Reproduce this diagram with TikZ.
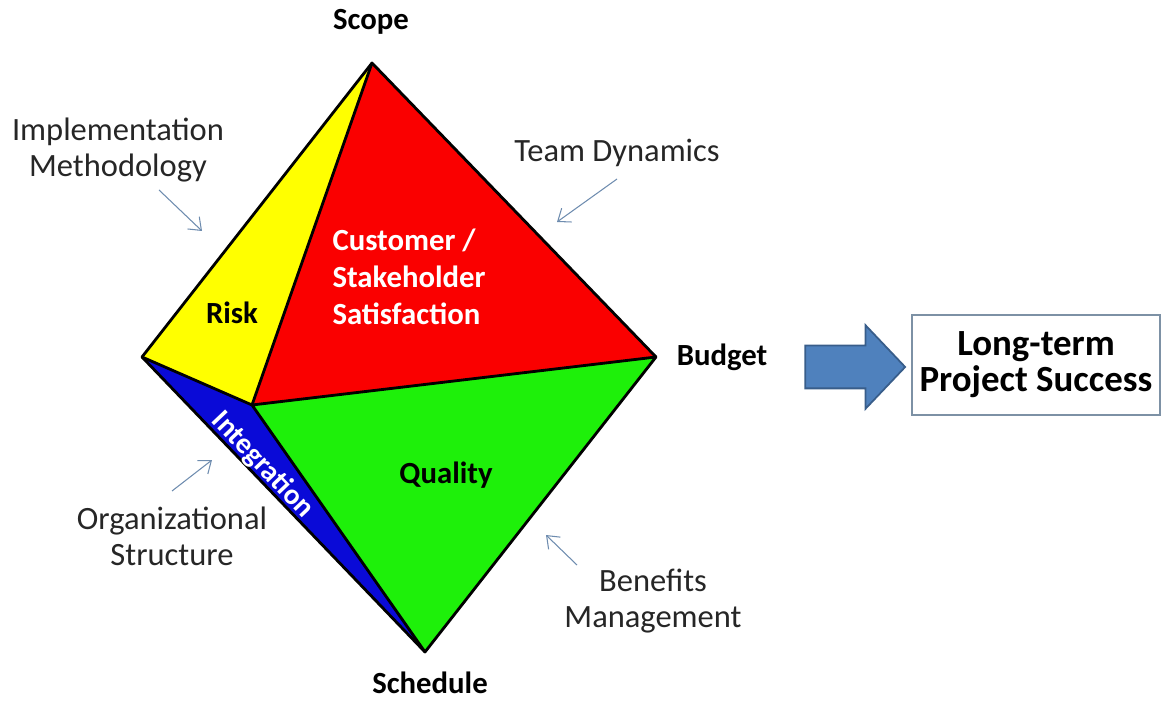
\documentclass[tikz,border=0pt]{standalone}
\usepackage{fontspec}
\setmainfont{Carlito}
\usepackage{xcolor}
\usetikzlibrary{arrows.meta,shapes.arrows}
\definecolor{cred}{RGB}{250,0,0}
\definecolor{cyel}{RGB}{255,255,0}
\definecolor{cgrn}{RGB}{30,240,10}
\definecolor{cblu}{RGB}{10,10,215}
\definecolor{cpush}{RGB}{79,129,189}
\definecolor{cpushline}{RGB}{56,93,138}
\definecolor{chint}{RGB}{110,140,175}
\definecolor{cbox}{RGB}{125,145,165}

\begin{document}
\begin{tikzpicture}[
  face/.style={draw=black,line width=1.6pt,line join=round},
  corner/.style={font=\fontsize{17.5}{21}\selectfont\bfseries},
  note/.style={font=\fontsize{18.5}{20.5}\selectfont,text=black!85,align=center},
  inlabel/.style={font=\fontsize{17.5}{21}\selectfont\bfseries,align=left},
  hint/.style={-{Straight Barb[length=2.2mm,width=3.4mm]},chint,line width=0.6pt},
]
\useasboundingbox (0,0) rectangle (23.3,-14.04);
% corners of the double pyramid
\coordinate (top) at (7.44,-1.26);
\coordinate (west) at (2.84,-7.14);
\coordinate (east) at (13.12,-7.14);
\coordinate (mid) at (5.04,-8.10);
\coordinate (bot) at (8.50,-13.04);
% faces
\fill[cyel] (top) -- (west) -- (mid) -- cycle;
\fill[cred] (top) -- (mid) -- (east) -- cycle;
\fill[cblu] (west) -- (mid) -- (bot) -- cycle;
\fill[cgrn] (mid) -- (east) -- (bot) -- cycle;
\draw[face] (top) -- (west) -- (bot) -- (east) -- cycle;
\draw[face] (top) -- (mid) -- (east) (west) -- (mid) -- (bot);
% corner labels
\node[corner] (scope) at (7.42,-0.44) {Scope};
\node[corner] (budget) at (14.44,-7.14) {Budget};
\node[corner] (schedule) at (8.60,-13.66) {Schedule};
% face labels
\node[inlabel] (risk) at (4.64,-6.26) {Risk};
\node[inlabel,text=white] (cust) at (8.18,-5.54) {Customer /\\Stakeholder\\Satisfaction};
\node[inlabel] (quality) at (8.92,-9.50) {Quality};
\node[inlabel,text=white,font=\fontsize{16.6}{18}\selectfont\bfseries,rotate=-46.5,inner sep=0pt] (integ) at (5.25,-9.30) {Integration};
% influences around the edges
\node[note] (impl) at (2.36,-3.00) {Implementation\\Methodology};
\node[note] (team) at (12.34,-3.06) {Team Dynamics};
\node[note] (org) at (3.44,-10.73) {Organizational\\Structure};
\node[note] (benef) at (13.06,-12.02) {Benefits\\Management};
\coordinate (implA) at (3.18,-3.80);  \coordinate (implB) at (4.04,-4.62);
\coordinate (teamA) at (12.34,-3.58); \coordinate (teamB) at (11.14,-4.44);
\coordinate (orgA) at (3.44,-9.82);   \coordinate (orgB) at (4.24,-9.20);
\coordinate (benefA) at (11.54,-11.30); \coordinate (benefB) at (10.92,-10.70);
\draw[hint] (implA) -- (implB);
\draw[hint] (teamA) -- (teamB);
\draw[hint] (orgA) -- (orgB);
\draw[hint] (benefA) -- (benefB);
% outcome
\node[single arrow,draw=cpushline,fill=cpush,line width=1pt,inner xsep=0pt,inner ysep=0.41cm,
  minimum height=2.0cm,single arrow head extend=0.41cm,
  single arrow tip angle=93] (push) at (16.90,-7.34) {};
\node[draw=cbox,line width=0.6pt,minimum width=4.96cm,minimum height=2.0cm,align=center,
  font=\fontsize{21}{20.5}\selectfont\bfseries] (success) at (20.72,-7.30) {Long-term\\Project Success};
\end{tikzpicture}
\end{document}
